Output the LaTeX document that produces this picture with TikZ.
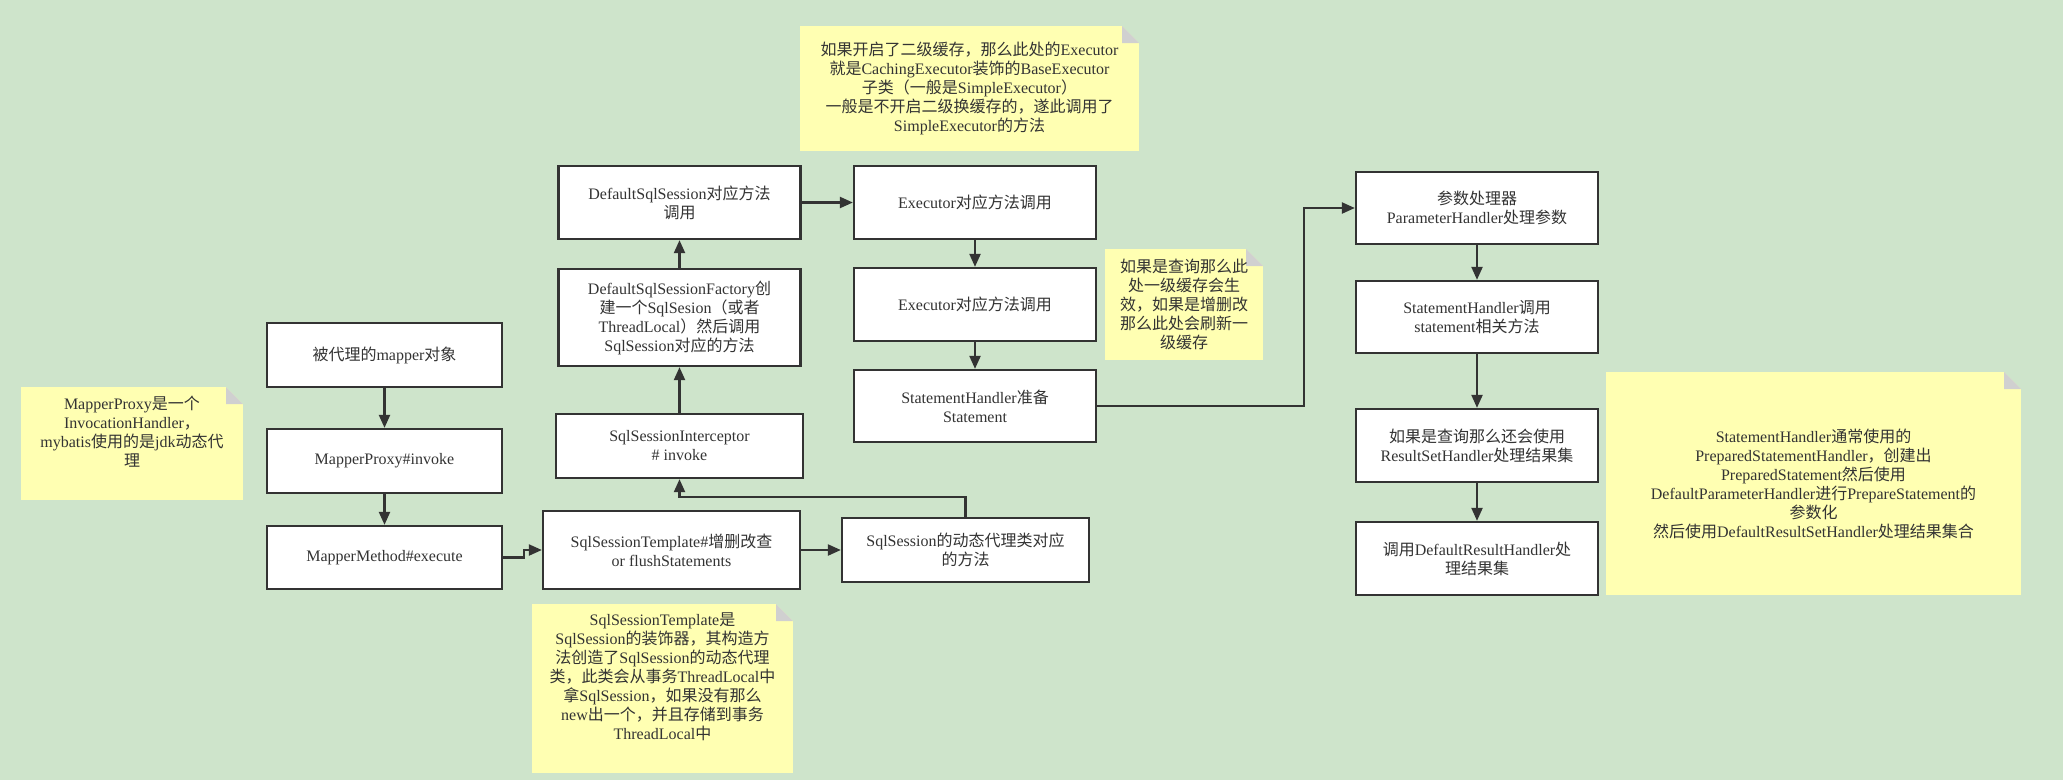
\documentclass[tikz,border=0pt]{standalone}
\usepackage{fontspec}
\setmainfont{Liberation Serif}
\newfontfamily\cjkfont{Noto Sans CJK SC}
\usepackage{xcolor}
\usepackage{tikz}
\usetikzlibrary{arrows.meta}

% Chinese characters are set in the CJK font
\XeTeXinterchartokenstate=1
\newXeTeXintercharclass\cjkclass
\newcount\cjkcode
\def\setcjkrange#1#2{%
  \cjkcode=#1\relax
  \loop
    \XeTeXcharclass\cjkcode=\cjkclass
    \ifnum\cjkcode<#2\relax \advance\cjkcode by 1
  \repeat}
\setcjkrange{"3000}{"303F}
\setcjkrange{"4E00}{"9FFF}
\setcjkrange{"FF00}{"FFEF}
\XeTeXinterchartoks 0 \cjkclass = {\begingroup\cjkfont}
\XeTeXinterchartoks 4095 \cjkclass = {\begingroup\cjkfont}
\XeTeXinterchartoks \cjkclass 0 = {\endgroup}
\XeTeXinterchartoks \cjkclass 4095 = {\endgroup}

\definecolor{bgc}{RGB}{206,228,203}
\definecolor{notec}{RGB}{255,255,178}
\definecolor{foldc}{RGB}{208,208,208}
\definecolor{linec}{RGB}{51,51,51}
\definecolor{textc}{RGB}{51,51,51}

\begin{document}
\begin{tikzpicture}[x=1pt,y=-1pt,>={Triangle[length=13pt,width=11pt]},
  box/.style={draw=linec,line width=2.3pt,fill=white,inner sep=0pt,align=center,
    text=textc,font=\fontsize{16}{19}\selectfont},
  note/.style={fill=notec,inner sep=0pt,align=center,text=textc,
    font=\fontsize{16}{19}\selectfont,
    path picture={
      \fill[bgc] (path picture bounding box.north east) -- ++(-17pt,0pt) -- ++(17pt,-17pt) -- cycle;
      \fill[foldc] (path picture bounding box.north east) ++(-17pt,0pt) -- ++(0pt,-17pt) -- ++(17pt,0pt) -- cycle;}},
  flow/.style={->,draw=linec,line width=2.2pt}]
  \fill[bgc] (0,0) rectangle (2063,780);
  \useasboundingbox (0,0) rectangle (2063,780);

  % notes
  \node[note,minimum width=222pt,minimum height=113pt] (nProxy) at (132,443.5) {MapperProxy是一个\\InvocationHandler，\\mybatis使用的是jdk动态代\\理\\\strut};
  \node[note,minimum width=261pt,minimum height=169pt] (nTemplate) at (662.5,688.5) {SqlSessionTemplate是\\SqlSession的装饰器，其构造方\\法创造了SqlSession的动态代理\\类，此类会从事务ThreadLocal中\\拿SqlSession，如果没有那么\\new出一个，并且存储到事务\\ThreadLocal中\\\strut};
  \node[note,minimum width=339pt,minimum height=125pt] (nCache2) at (969.5,88.5) {如果开启了二级缓存，那么此处的Executor\\就是CachingExecutor装饰的BaseExecutor\\子类（一般是SimpleExecutor）\\一般是不开启二级换缓存的，遂此调用了\\SimpleExecutor的方法};
  \node[note,minimum width=158pt,minimum height=111pt] (nCache1) at (1184,304.5) {如果是查询那么此\\处一级缓存会生\\效，如果是增删改\\那么此处会刷新一\\级缓存};
  \node[note,minimum width=415pt,minimum height=223pt] (nStmt) at (1813.5,483.5) {StatementHandler通常使用的\\PreparedStatementHandler，创建出\\PreparedStatement然后使用\\DefaultParameterHandler进行PrepareStatement的\\参数化\\然后使用DefaultResultSetHandler处理结果集合};

  % mapper side
  \node[box,minimum width=235pt,minimum height=64pt] (mapperObj) at (384.5,355) {被代理的mapper对象};
  \node[box,minimum width=235pt,minimum height=64pt] (mpInvoke) at (384.5,461) {MapperProxy\#invoke};
  \node[box,minimum width=235pt,minimum height=63pt] (mmExecute) at (384.5,557.5) {MapperMethod\#execute};

  % sql session
  \node[box,minimum width=257pt,minimum height=78pt] (sstTemplate) at (671.5,550) {SqlSessionTemplate\#增删改查\\or flushStatements};
  \node[box,minimum width=247pt,minimum height=64pt] (proxyMethod) at (965.5,550) {SqlSession的动态代理类对应\\的方法};
  \node[box,minimum width=247pt,minimum height=64pt] (interceptor) at (679.5,446) {SqlSessionInterceptor\\\# invoke};
  \node[box,minimum width=242pt,minimum height=97pt] (factory) at (679.5,317.5) {DefaultSqlSessionFactory创\\建一个SqlSesion（或者\\ThreadLocal）然后调用\\SqlSession对应的方法};
  \node[box,minimum width=242pt,minimum height=73pt] (defSession) at (679.5,202.5) {DefaultSqlSession对应方法\\调用};

  % executor
  \node[box,minimum width=242pt,minimum height=73pt] (exec1) at (975,202.5) {Executor对应方法调用};
  \node[box,minimum width=242pt,minimum height=73pt] (exec2) at (975,304.5) {Executor对应方法调用};
  \node[box,minimum width=242pt,minimum height=72pt] (shPrepare) at (975,406) {StatementHandler准备\\Statement};

  % statement handler
  \node[box,minimum width=242pt,minimum height=72pt] (paramH) at (1477,208) {参数处理器\\ParameterHandler处理参数};
  \node[box,minimum width=242pt,minimum height=72pt] (shCall) at (1477,317) {StatementHandler调用\\statement相关方法};
  \node[box,minimum width=242pt,minimum height=73pt] (rsHandler) at (1477,445.5) {如果是查询那么还会使用\\ResultSetHandler处理结果集};
  \node[box,minimum width=242pt,minimum height=73pt] (drHandler) at (1477,558.5) {调用DefaultResultHandler处\\理结果集};

  \draw[flow] (mapperObj) -- (mpInvoke);
  \draw[flow] (mpInvoke) -- (mmExecute);
  \draw[flow] (mmExecute.east) -- ++(21,0) |- (sstTemplate.west);
  \draw[flow] (sstTemplate) -- (proxyMethod);
  \draw[flow] (proxyMethod.north) -- ++(0,-20) -| (interceptor.south);
  \draw[flow] (interceptor) -- (factory);
  \draw[flow] (factory) -- (defSession);
  \draw[flow] (defSession) -- (exec1);
  \draw[flow] (exec1) -- (exec2);
  \draw[flow] (exec2) -- (shPrepare);
  \draw[flow] (shPrepare.east) -- ++(207,0) |- (paramH.west);
  \draw[flow] (paramH) -- (shCall);
  \draw[flow] (shCall) -- (rsHandler);
  \draw[flow] (rsHandler) -- (drHandler);
\end{tikzpicture}
\end{document}
